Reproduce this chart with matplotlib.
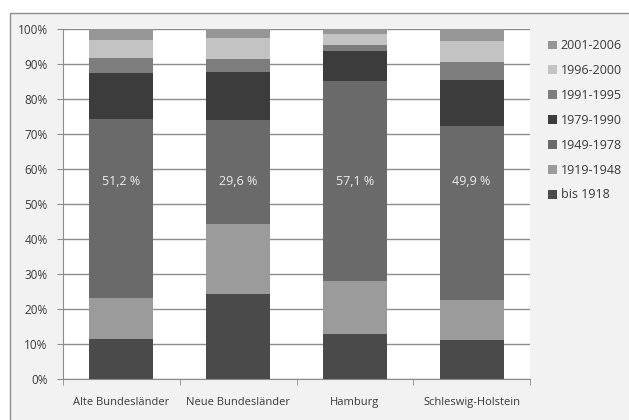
import numpy as np
import matplotlib.pyplot as plt
from matplotlib.patches import Rectangle

# Anteil der Wohngebäude nach Baujahr (in %)
regions = ['Alte Bundesländer', 'Neue Bundesländer', 'Hamburg', 'Schleswig-Holstein']
periods = ['bis 1918', '1919-1948', '1949-1978', '1979-1990', '1991-1995', '1996-2000', '2001-2006']
bis_1918 = [11.3, 24.2, 12.8, 11.0]
p1919_1948 = [11.8, 20.1, 15.2, 11.5]
p1949_1978 = [51.2, 29.6, 57.1, 49.9]
p1979_1990 = [13.1, 14.0, 8.6, 13.0]
p1991_1995 = [4.5, 3.5, 1.9, 5.2]
p1996_2000 = [4.9, 6.1, 3.0, 6.0]
p2001_2006 = [3.2, 2.5, 1.4, 3.4]
label_values = ['51,2 %', '29,6 %', '57,1 %', '49,9 %']

series = [bis_1918, p1919_1948, p1949_1978, p1979_1990, p1991_1995, p1996_2000, p2001_2006]
colors = ['#4a4a4a', '#9b9b9b', '#6a6a6a', '#3c3c3c', '#7d7d7d', '#c3c3c3', '#969696']

plt.rcParams['font.family'] = ['Open Sans', 'DejaVu Sans']
text_col = '#3a3a3a'
grid_col = '#8c8c8c'

fig = plt.figure(figsize=(6.29, 4.2), dpi=100)
# chart area background
fig.patches.append(Rectangle((10 / 629, -0.05), 1.0, 1 - 13 / 420 + 0.05,
                             transform=fig.transFigure, facecolor='#f2f2f2',
                             edgecolor='#8c8c8c', linewidth=1, zorder=-10))

ax = fig.add_axes([63 / 629, 1 - 378.7 / 420, (530 - 63) / 629, (378.7 - 29.3) / 420])
ax.set_facecolor('white')

x = np.arange(len(regions))
bottom = np.zeros(len(regions))
handles = []
for vals, col, lab in zip(series, colors, periods):
    h = ax.bar(x, vals, width=0.55, bottom=bottom, color=col, label=lab, zorder=3)
    handles.append(h)
    bottom += np.array(vals)

for xi, t in zip(x, label_values):
    ax.text(xi, 56.4, t, ha='center', va='center', color='#ececec', fontsize=9, zorder=4)

ax.set_xlim(-0.5, len(regions) - 0.5)
ax.set_ylim(0, 100)
ax.set_yticks(np.arange(0, 101, 10))
ax.set_yticklabels([f'{v}%' for v in range(0, 101, 10)])
ax.yaxis.grid(True, color=grid_col, linewidth=1, zorder=0)
ax.set_axisbelow(True)

ax.set_xticks(x)
ax.set_xticklabels(regions)
ax.set_xticks(np.arange(-0.5, len(regions), 1.0), minor=True)
ax.tick_params(axis='x', which='major', length=0, pad=13, labelsize=8, colors=text_col)
ax.tick_params(axis='x', which='minor', length=4, color=grid_col, direction='out')
ax.tick_params(axis='y', length=4, pad=7, labelsize=8.5, colors=text_col, color=grid_col)

for s in ['top', 'right']:
    ax.spines[s].set_visible(False)
for s in ['left', 'bottom']:
    ax.spines[s].set_color(grid_col)

leg = fig.legend(handles[::-1], periods[::-1], loc='upper left',
                 bbox_to_anchor=(537 / 629, 1 - 28 / 420), frameon=False,
                 fontsize=9, handlelength=0.7, handleheight=0.7,
                 handletextpad=0.3, labelspacing=0.95)
for t in leg.get_texts():
    t.set_color(text_col)

fig.savefig('out.png', dpi=100)
